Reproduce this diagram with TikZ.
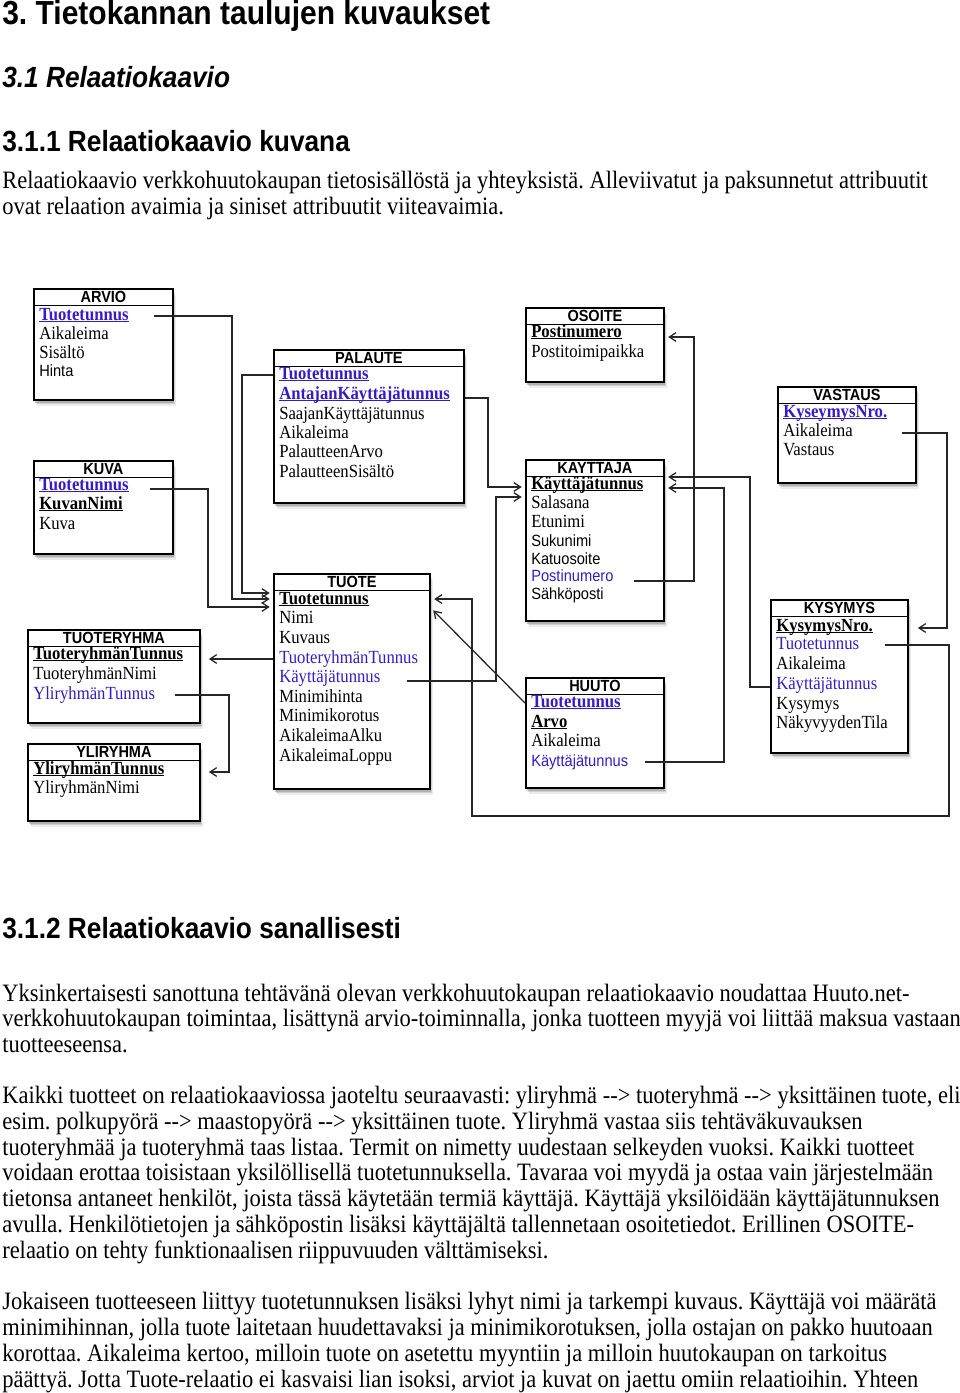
\documentclass[tikz,border=0pt]{standalone}
\usepackage{fontspec}
\setmainfont{Liberation Serif}[FakeStretch=0.9]
\setsansfont{Liberation Sans}[FakeStretch=0.9]
\usetikzlibrary{arrows.meta,shadows}
\definecolor{keyblue}{RGB}{58,26,196}
\newcommand{\px}{0.75pt}
\newcommand{\dashto}{\mbox{-}\mbox{-}>}
\newcommand{\keyname}[1]{\setbox0=\hbox{#1}\rlap{\rule[-1.8pt]{\wd0}{0.7pt}}\box0}
\frenchspacing

\begin{document}
\begin{tikzpicture}
        [x=0.75pt, y=-0.75pt,
        relation/.style={draw, line width=1.4pt, fill=white, anchor=north west, inner sep=0pt,
            drop shadow={shadow xshift=2.2pt, shadow yshift=-4.5pt, opacity=0.15},
            drop shadow={shadow xshift=1.5pt, shadow yshift=-3.2pt, opacity=0.25},
            drop shadow={shadow xshift=0.8pt, shadow yshift=-2pt, opacity=0.4}},
        title/.style={anchor=north, minimum height=17*\px, inner sep=0pt,
            font=\sffamily\bfseries\fontsize{12.1pt}{13pt}\selectfont},
        divider/.style={line width=0.9pt},
        attr/.style={anchor=west, inner sep=0pt, text height=9pt, text depth=3pt,
            font=\rmfamily\fontsize{13.9pt}{14pt}\selectfont},
        attrsans/.style={attr, font=\sffamily\fontsize{12.2pt}{13pt}\selectfont},
        key/.style={attr, font=\rmfamily\bfseries\fontsize{13.9pt}{14pt}\selectfont},
        fk/.style={text=keyblue},
        link/.style={draw=black!85, line width=0.95pt, -{Straight Barb[length=5pt,width=6.5pt]}, shorten >=2.5pt},
        heading/.style={anchor=base west, inner sep=0pt, font=\sffamily\bfseries\fontsize{21.9pt}{26pt}\selectfont},
        bodyline/.style={anchor=base west, inner sep=0pt, font=\rmfamily\fontsize{18.75pt}{19pt}\selectfont}]

        \fill[white] (0,0) rectangle (960,1393);
        \useasboundingbox (0,0) rectangle (960,1393);

        % headings and text
        \node[heading, font=\sffamily\bfseries\fontsize{25pt}{30pt}\selectfont] (h1) at (2,24) {3. Tietokannan taulujen kuvaukset};
        \node[heading, font=\sffamily\bfseries\itshape\fontsize{21.9pt}{26pt}\selectfont] (h2) at (2,87) {3.1 Relaatiokaavio};
        \node[heading] (h3) at (2,151) {3.1.1 Relaatiokaavio kuvana};
        \node[bodyline] (intro1) at (2,188) {Relaatiokaavio verkkohuutokaupan tietosisällöstä ja yhteyksistä. Alleviivatut ja paksunnetut attribuutit};
        \node[bodyline] (intro2) at (2,214) {ovat relaation avaimia ja siniset attribuutit viiteavaimia.};

        \node[heading] (h4) at (2,938) {3.1.2 Relaatiokaavio sanallisesti};
        \node[bodyline] (p1a) at (2,1001) {Yksinkertaisesti sanottuna tehtävänä olevan verkkohuutokaupan relaatiokaavio noudattaa Huuto.net-};
        \node[bodyline] (p1b) at (2,1026) {verkkohuutokaupan toimintaa, lisättynä arvio-toiminnalla, jonka tuotteen myyjä voi liittää maksua vastaan};
        \node[bodyline] (p1c) at (2,1052) {tuotteeseensa.};
        \node[bodyline] (p2a) at (2,1103) {Kaikki tuotteet on relaatiokaaviossa jaoteltu seuraavasti: yliryhmä \dashto{} tuoteryhmä \dashto{} yksittäinen tuote, eli};
        \node[bodyline] (p2b) at (2,1129) {esim. polkupyörä \dashto{} maastopyörä \dashto{} yksittäinen tuote. Yliryhmä vastaa siis tehtäväkuvauksen};
        \node[bodyline] (p2c) at (2,1155) {tuoteryhmää ja tuoteryhmä taas listaa. Termit on nimetty uudestaan selkeyden vuoksi. Kaikki tuotteet};
        \node[bodyline] (p2d) at (2,1180) {voidaan erottaa toisistaan yksilöllisellä tuotetunnuksella. Tavaraa voi myydä ja ostaa vain järjestelmään};
        \node[bodyline] (p2e) at (2,1206) {tietonsa antaneet henkilöt, joista tässä käytetään termiä käyttäjä. Käyttäjä yksilöidään käyttäjätunnuksen};
        \node[bodyline] (p2f) at (2,1232) {avulla. Henkilötietojen ja sähköpostin lisäksi käyttäjältä tallennetaan osoitetiedot. Erillinen OSOITE-};
        \node[bodyline] (p2g) at (2,1258) {relaatio on tehty funktionaalisen riippuvuuden välttämiseksi.};
        \node[bodyline] (p3a) at (2,1309) {Jokaiseen tuotteeseen liittyy tuotetunnuksen lisäksi lyhyt nimi ja tarkempi kuvaus. Käyttäjä voi määrätä};
        \node[bodyline] (p3b) at (2,1335) {minimihinnan, jolla tuote laitetaan huudettavaksi ja minimikorotuksen, jolla ostajan on pakko huutoaan};
        \node[bodyline] (p3c) at (2,1361) {korottaa. Aikaleima kertoo, milloin tuote on asetettu myyntiin ja milloin huutokaupan on tarkoitus};
        \node[bodyline] (p3d) at (2,1387) {päättyä. Jotta Tuote-relaatio ei kasvaisi lian isoksi, arviot ja kuvat on jaettu omiin relaatioihin. Yhteen};

        % relations
        \node[relation, minimum width=139*\px, minimum height=111*\px] (arvio) at (33,288) {};
        \node[title] (arvio-h) at (arvio.north) {ARVIO};
        \draw[divider] (arvio-h.south -| arvio.west) -- (arvio-h.south -| arvio.east);
        \node[key, fk] (arvio-tt) at (39,316) {\keyname{Tuotetunnus}};
        \node[attr] (arvio-ai) at (39,335) {Aikaleima};
        \node[attr] (arvio-si) at (39,354) {Sisältö};
        \node[attrsans] (arvio-hi) at (39,372) {Hinta};

        \node[relation, minimum width=139*\px, minimum height=93*\px] (kuva) at (33,460) {};
        \node[title] (kuva-h) at (kuva.north) {KUVA};
        \draw[divider] (kuva-h.south -| kuva.west) -- (kuva-h.south -| kuva.east);
        \node[key, fk] (kuva-tt) at (39,486) {\keyname{Tuotetunnus}};
        \node[key] (kuva-kn) at (39,505) {\keyname{KuvanNimi}};
        \node[attr] (kuva-ku) at (39,525) {Kuva};

        \node[relation, minimum width=190*\px, minimum height=153*\px] (palaute) at (273,349) {};
        \node[title] (palaute-h) at (palaute.north) {PALAUTE};
        \draw[divider] (palaute-h.south -| palaute.west) -- (palaute-h.south -| palaute.east);
        \node[key, fk] (palaute-tt) at (279,375) {\keyname{Tuotetunnus}};
        \node[key, fk] (palaute-ak) at (279,395) {\keyname{AntajanKäyttäjätunnus}};
        \node[attr] (palaute-sk) at (279,415) {SaajanKäyttäjätunnus};
        \node[attr] (palaute-ai) at (279,434) {Aikaleima};
        \node[attr] (palaute-pa) at (279,453) {PalautteenArvo};
        \node[attr] (palaute-ps) at (279,473) {PalautteenSisältö};

        \node[relation, minimum width=156*\px, minimum height=215*\px] (tuote) at (273,573) {};
        \node[title] (tuote-h) at (tuote.north) {TUOTE};
        \draw[divider] (tuote-h.south -| tuote.west) -- (tuote-h.south -| tuote.east);
        \node[key] (tuote-tt) at (279,600) {\keyname{Tuotetunnus}};
        \node[attr] (tuote-ni) at (279,619) {Nimi};
        \node[attr] (tuote-ku) at (279,639) {Kuvaus};
        \node[attr, fk] (tuote-trt) at (279,659) {TuoteryhmänTunnus};
        \node[attr, fk] (tuote-kt) at (279,678) {Käyttäjätunnus};
        \node[attr] (tuote-mh) at (279,698) {Minimihinta};
        \node[attr] (tuote-mk) at (279,717) {Minimikorotus};
        \node[attr] (tuote-aa) at (279,737) {AikaleimaAlku};
        \node[attr] (tuote-al) at (279,757) {AikaleimaLoppu};

        \node[relation, minimum width=172*\px, minimum height=93*\px] (tuoteryhma) at (27,629) {};
        \node[title] (tuoteryhma-h) at (tuoteryhma.north) {TUOTERYHMA};
        \draw[divider] (tuoteryhma-h.south -| tuoteryhma.west) -- (tuoteryhma-h.south -| tuoteryhma.east);
        \node[key] (tuoteryhma-trt) at (33,655) {\keyname{TuoteryhmänTunnus}};
        \node[attr] (tuoteryhma-trn) at (33,675) {TuoteryhmänNimi};
        \node[attr, fk] (tuoteryhma-yt) at (33,695) {YliryhmänTunnus};

        \node[relation, minimum width=172*\px, minimum height=77*\px] (yliryhma) at (27,743) {};
        \node[title] (yliryhma-h) at (yliryhma.north) {YLIRYHMA};
        \draw[divider] (yliryhma-h.south -| yliryhma.west) -- (yliryhma-h.south -| yliryhma.east);
        \node[key] (yliryhma-yt) at (33,770) {\keyname{YliryhmänTunnus}};
        \node[attr] (yliryhma-yn) at (33,789) {YliryhmänNimi};

        \node[relation, minimum width=138*\px, minimum height=74*\px] (osoite) at (525,307) {};
        \node[title] (osoite-h) at (osoite.north) {OSOITE};
        \draw[divider] (osoite-h.south -| osoite.west) -- (osoite-h.south -| osoite.east);
        \node[key] (osoite-pn) at (531,333) {\keyname{Postinumero}};
        \node[attr] (osoite-pt) at (531,353) {Postitoimipaikka};

        \node[relation, minimum width=138*\px, minimum height=161*\px] (kayttaja) at (525,459) {};
        \node[title] (kayttaja-h) at (kayttaja.north) {KAYTTAJA};
        \draw[divider] (kayttaja-h.south -| kayttaja.west) -- (kayttaja-h.south -| kayttaja.east);
        \node[key] (kayttaja-kt) at (531,485) {\keyname{Käyttäjätunnus}};
        \node[attr] (kayttaja-sa) at (531,504) {Salasana};
        \node[attr] (kayttaja-et) at (531,523) {Etunimi};
        \node[attrsans] (kayttaja-su) at (531,542) {Sukunimi};
        \node[attrsans] (kayttaja-ka) at (531,560) {Katuosoite};
        \node[attrsans, fk] (kayttaja-pn) at (531,577) {Postinumero};
        \node[attrsans] (kayttaja-sp) at (531,595) {Sähköposti};

        \node[relation, minimum width=138*\px, minimum height=96*\px] (vastaus) at (777,386) {};
        \node[title] (vastaus-h) at (vastaus.north) {VASTAUS};
        \draw[divider] (vastaus-h.south -| vastaus.west) -- (vastaus-h.south -| vastaus.east);
        \node[key, fk] (vastaus-nro) at (783,413) {\keyname{KyseymysNro.}};
        \node[attr] (vastaus-ai) at (783,432) {Aikaleima};
        \node[attr] (vastaus-va) at (783,451) {Vastaus};

        \node[relation, minimum width=137*\px, minimum height=153*\px] (kysymys) at (770,599) {};
        \node[title] (kysymys-h) at (kysymys.north) {KYSYMYS};
        \draw[divider] (kysymys-h.south -| kysymys.west) -- (kysymys-h.south -| kysymys.east);
        \node[key] (kysymys-nro) at (776,627) {\keyname{KysymysNro.}};
        \node[attr, fk] (kysymys-tt) at (776,645) {Tuotetunnus};
        \node[attr] (kysymys-ai) at (776,665) {Aikaleima};
        \node[attr, fk] (kysymys-kt) at (776,685) {Käyttäjätunnus};
        \node[attr] (kysymys-ky) at (776,705) {Kysymys};
        \node[attr] (kysymys-nt) at (776,724) {NäkyvyydenTila};

        \node[relation, minimum width=138*\px, minimum height=110*\px] (huuto) at (525,677) {};
        \node[title] (huuto-h) at (huuto.north) {HUUTO};
        \draw[divider] (huuto-h.south -| huuto.west) -- (huuto-h.south -| huuto.east);
        \node[key, fk] (huuto-tt) at (531,703) {\keyname{Tuotetunnus}};
        \node[key] (huuto-ar) at (531,723) {\keyname{Arvo}};
        \node[attr] (huuto-ai) at (531,742) {Aikaleima};
        \node[attrsans, fk] (huuto-kt) at (531,762) {Käyttäjätunnus};

        % foreign key links
        \draw[link] ([xshift=-20*\px]arvio.east |- arvio-tt) -- ++(78,0) |- ([yshift=1*\px]tuote.west |- tuote-tt);
        \draw[link] ([xshift=-24*\px,yshift=-3*\px]kuva.east |- kuva-tt) -- ++(58,0) |- ([yshift=-7*\px]tuote.west |- tuote-tt);
        \draw[link] (palaute.west |- palaute-tt) -- ++(-31,0) |- ([yshift=7*\px]tuote.west |- tuote-tt);
        \draw[link] ([yshift=-3*\px]palaute.east |- palaute-ak) -- ++(23,0) |- ([yshift=-2*\px]kayttaja.west |- kayttaja-kt);
        \draw[link] ([xshift=-24*\px,yshift=-3*\px]tuote.east |- tuote-kt) -- ++(89,0) |- ([yshift=-12*\px]kayttaja.west |- kayttaja-kt);
        \draw[link, shorten >=8*\px] (tuote.west |- tuote-trt) -- (tuote-trt -| tuoteryhma.east);
        \draw[link, shorten >=8*\px] ([xshift=-26*\px]tuoteryhma.east |- tuoteryhma-yt) -- ++(54,0) |- ([yshift=-2*\px]yliryhma.east |- yliryhma-yt);
        \draw[link] ([xshift=-31*\px,yshift=-4*\px]kayttaja.east |- kayttaja-pn) -- ++(60,0) |- ([yshift=-4*\px]osoite.east |- osoite-pn);
        \draw[link] ([xshift=-20*\px]huuto.east |- huuto-kt) -- ++(79,0) |- ([yshift=-3*\px]kayttaja.east |- kayttaja-kt);
        \draw[link] ([yshift=-2*\px]kysymys.west |- kysymys-kt) -- ++(-20,0) |- ([yshift=8*\px]kayttaja.east |- kayttaja-kt);
        \draw[link, shorten >=9*\px] ([xshift=-15*\px,yshift=-1*\px]vastaus.east |- vastaus-ai) -- ++(45,0) |- ([yshift=-1*\px]kysymys.east |- kysymys-nro);
        \draw[link] ([xshift=-24*\px]kysymys.east |- kysymys-tt) -- ++(64,0) -- ++(0,171) -| ([xshift=41*\px,yshift=1*\px]tuote.east |- tuote-tt) -- ([yshift=1*\px]tuote.east |- tuote-tt);
        \draw[link] (huuto.west |- huuto-tt) -- ([yshift=-8*\px]tuote.east |- tuote-tt);

\end{tikzpicture}
\end{document}
